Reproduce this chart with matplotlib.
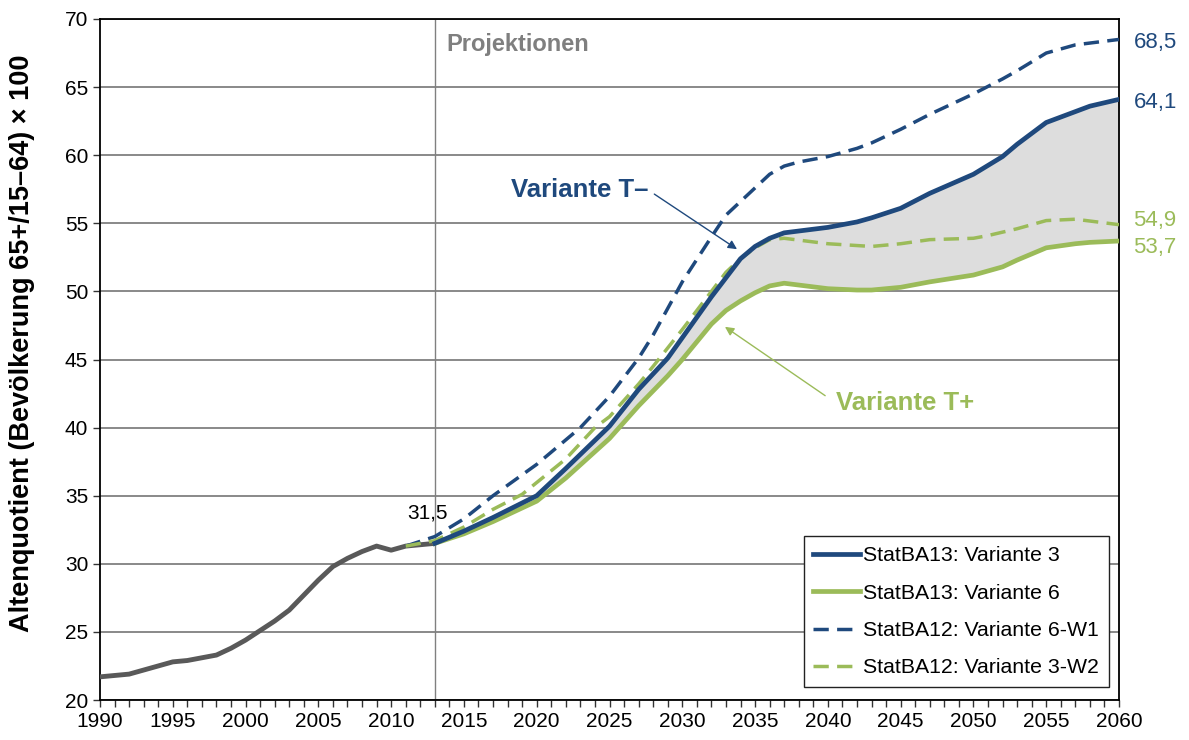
import numpy as np
import matplotlib
matplotlib.use("Agg")
from matplotlib import pyplot as plt

plt.rcParams['font.family'] = ['Liberation Sans', 'DejaVu Sans']

# historical (grey)
histYears = list(range(1990, 2014))
histVals = [21.7, 21.8, 21.9, 22.2, 22.5, 22.8, 22.9, 23.1, 23.3, 23.8, 24.4, 25.1,
            25.8, 26.6, 27.7, 28.8, 29.8, 30.4, 30.9, 31.3, 31.0, 31.3, 31.4, 31.5]

# StatBA13 variants (solid)
projYears = [2013, 2015, 2017, 2020, 2022, 2025, 2027, 2029, 2030, 2032, 2033, 2034, 2035,
             2036, 2037, 2040, 2042, 2043, 2045, 2047, 2050, 2052, 2053, 2055, 2057, 2058, 2060]
var3 = [31.5, 32.4, 33.4, 35.0, 37.0, 40.1, 42.8, 45.1, 46.6, 49.6, 51.0, 52.4, 53.3,
        53.9, 54.3, 54.7, 55.1, 55.4, 56.1, 57.2, 58.6, 59.9, 60.8, 62.4, 63.2, 63.6, 64.1]
var6 = [31.5, 32.2, 33.1, 34.6, 36.3, 39.2, 41.6, 43.8, 45.0, 47.6, 48.6, 49.3, 49.9,
        50.4, 50.6, 50.2, 50.1, 50.1, 50.3, 50.7, 51.2, 51.8, 52.3, 53.2, 53.5, 53.6, 53.7]

# StatBA12 variants (dashed)
w1Years = [2011, 2013, 2015, 2017, 2020, 2023, 2025, 2027, 2028, 2030, 2032, 2033, 2034, 2035,
           2036, 2037, 2038, 2040, 2042, 2043, 2045, 2047, 2048, 2050, 2052, 2053, 2055, 2057, 2060]
var6W1 = [31.3, 32.0, 33.3, 35.0, 37.3, 40.0, 42.3, 45.1, 46.8, 50.7, 54.0, 55.6, 56.6, 57.6,
          58.6, 59.2, 59.5, 59.9, 60.5, 60.9, 61.9, 63.0, 63.5, 64.5, 65.6, 66.2, 67.5, 68.1, 68.5]
w2Years = [2011, 2013, 2015, 2017, 2019, 2022, 2024, 2025, 2027, 2028, 2030, 2032, 2033, 2034,
           2035, 2036, 2037, 2040, 2043, 2045, 2047, 2050, 2051, 2053, 2055, 2057, 2060]
var3W2 = [31.3, 31.7, 32.7, 34.0, 35.1, 37.7, 40.0, 40.8, 43.2, 44.5, 47.2, 50.0, 51.4, 52.4,
          53.2, 53.8, 53.9, 53.5, 53.3, 53.5, 53.8, 53.9, 54.1, 54.6, 55.2, 55.3, 54.9]

endLabels = ['68,5', '64,1', '54,9', '53,7']
endLabelY = [68.3, 63.9, 55.2, 53.2]   # nudged apart like in the original

blue = '#1F497D'
green = '#9BBB59'
grey = '#595959'

fig = plt.figure(figsize=(11.89, 7.40), dpi=100)
ax = fig.add_axes([100/1189, 1-700/740, 1019/1189, 681/740])

ax.set_xlim(1990, 2060)
ax.set_ylim(20, 70)
ax.set_yticks(np.arange(20, 71, 5))
ax.set_xticks(np.arange(1990, 2061, 5))
ax.set_xticks(np.arange(1990, 2061, 1), minor=True)
ax.yaxis.grid(True, color='#808080', linewidth=1.3)
ax.set_axisbelow(True)
ax.tick_params(axis='both', which='both', direction='out', labelsize=15, length=5, width=1, color='#333333')
ax.tick_params(axis='x', which='minor', length=5)
for s in ax.spines.values():
    s.set_linewidth(1.3)
    s.set_color('black')

ax.axvline(2013, color='#808080', linewidth=1, zorder=1)
ax.text(2013.8, 68.1, 'Projektionen', color='#7F7F7F', fontweight='bold', fontsize=17, va='center')

ax.fill_between(projYears, var6, var3, color='#DDDDDD', zorder=2, linewidth=0)
ax.plot(histYears, histVals, color=grey, linewidth=3.5, zorder=3, solid_capstyle='butt')
ax.plot(w1Years, var6W1, color=blue, linewidth=2.5, dashes=(4.4, 2.4), zorder=4, label='StatBA12: Variante 6-W1')
ax.plot(w2Years, var3W2, color=green, linewidth=2.5, dashes=(4.4, 2.4), zorder=4, label='StatBA12: Variante 3-W2')
ax.plot(projYears, var6, color=green, linewidth=3.4, zorder=5, label='StatBA13: Variante 6')
ax.plot(projYears, var3, color=blue, linewidth=3.4, zorder=6, label='StatBA13: Variante 3')

handles, labels = ax.get_legend_handles_labels()
order = [3, 2, 0, 1]
leg = ax.legend([handles[i] for i in order], [labels[i] for i in order],
                loc='lower right', bbox_to_anchor=(0.990, 0.019), borderaxespad=0, fontsize=15.3,
                fancybox=False, edgecolor='#222222', framealpha=1, handlelength=2.2,
                labelspacing=0.87, borderpad=0.45, handletextpad=0.15)
leg.get_frame().set_linewidth(1.0)

ax.text(2012.5, 33.7, '31,5', fontsize=15, ha='center', va='center')

ax.annotate('Variante T\u2013', xy=(2033.76, 53.1), xytext=(2027.65, 57.45),
            color=blue, fontweight='bold', fontsize=18.5, ha='right', va='center',
            arrowprops=dict(arrowstyle='-|>', color=blue, linewidth=1, mutation_scale=13,
                            shrinkA=3, shrinkB=0, relpos=(1.0, 0.5)))
ax.annotate('Variante T+', xy=(2032.93, 47.4), xytext=(2045.3, 41.8),
            color=green, fontweight='bold', fontsize=18.5, ha='center', va='center',
            arrowprops=dict(arrowstyle='-|>', color=green, linewidth=1, mutation_scale=13,
                            shrinkA=7, shrinkB=0, relpos=(0.0, 0.5)))

# end labels
for txt, yv, col in zip(endLabels, endLabelY, [blue, blue, green, green]):
    ax.text(2061, yv, txt, color=col, fontsize=16, va='center', ha='left')

ax.set_ylabel('Altenquotient (Bevölkerung 65+/15\u201364) \u00d7 100', fontweight='bold', fontsize=19.5)
ax.yaxis.set_label_coords(-0.064, 0.524)

fig.savefig('out.png', dpi=100)
